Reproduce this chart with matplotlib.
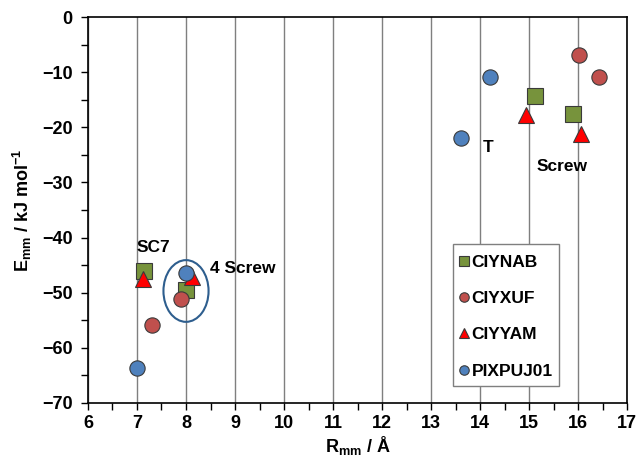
import matplotlib
matplotlib.use('Agg')
import matplotlib.pyplot as plt
from matplotlib.patches import Ellipse, Rectangle
from matplotlib.ticker import MultipleLocator

# Data
ciynab_r = [7.15, 8.0, 15.12, 15.9]
ciynab_e = [-46.0, -49.5, -14.4, -17.6]

ciyxuf_r = [7.3, 7.9, 16.02, 16.42]
ciyxuf_e = [-55.8, -51.1, -6.8, -10.9]

ciyyam_r = [7.12, 8.12, 14.93, 16.05]
ciyyam_e = [-47.5, -47.1, -17.7, -21.2]

pixpuj_r = [7.01, 7.99, 14.2, 13.6]
pixpuj_e = [-63.7, -46.5, -10.8, -22.0]

annotations = [("SC7", 7.33, -41.8), ("4 Screw", 9.16, -45.7),
               ("T", 14.16, -23.7), ("Screw", 15.67, -27.1)]

plt.rcParams['font.family'] = ['Liberation Sans', 'DejaVu Sans']
plt.rcParams['font.weight'] = 'bold'
plt.rcParams['mathtext.fontset'] = 'custom'
plt.rcParams['mathtext.rm'] = 'Liberation Sans:bold'
plt.rcParams['mathtext.bf'] = 'Liberation Sans:bold'
plt.rcParams['mathtext.default'] = 'bf'

W, H = 642, 462
fig = plt.figure(figsize=(W / 100, H / 100), dpi=100)
ax = fig.add_axes([0.137, 0.128, 0.840, 0.835])

ax.set_xlim(6, 17)
ax.set_ylim(-70, 0)
ax.xaxis.set_major_locator(MultipleLocator(1))
ax.xaxis.set_minor_locator(MultipleLocator(0.5))
ax.yaxis.set_major_locator(MultipleLocator(10))
ax.yaxis.set_minor_locator(MultipleLocator(5))
ax.tick_params(which='both', direction='out', length=5, width=1, labelsize=13)
ax.tick_params(axis='y', which='major', pad=6)
for lbl in ax.get_xticklabels() + ax.get_yticklabels():
    lbl.set_fontweight('bold')
ax.grid(axis='x', which='major', color='#7f7f7f', linewidth=1, zorder=0)
for s in ax.spines.values():
    s.set_linewidth(1.2)
    s.set_color('black')

ms = 11
ax.plot(ciynab_r, ciynab_e, 's', ms=ms, color='#77933C', mec='#3a3a3a', mew=0.8, ls='none', label='CIYNAB', zorder=3)
ax.plot(ciyxuf_r, ciyxuf_e, 'o', ms=ms, color='#C0504D', mec='#3a3a3a', mew=0.8, ls='none', label='CIYXUF', zorder=3)
ax.plot(ciyyam_r, ciyyam_e, '^', ms=ms, color='#FF0000', mec='#3a3a3a', mew=0.8, ls='none', label='CIYYAM', zorder=3)
ax.plot(pixpuj_r, pixpuj_e, 'o', ms=ms, color='#4F81BD', mec='#3a3a3a', mew=0.8, ls='none', label='PIXPUJ01', zorder=4)

ax.add_patch(Ellipse((8.0, -49.7), 0.92, 11.2, fill=False, edgecolor='#2E5E8E', linewidth=1.5, zorder=5))

for txt, x, y in annotations:
    ax.text(x, y, txt, ha='center', va='center', fontsize=12.5, fontweight='bold')

# legend frame drawn separately so spacing and box size can be set independently
box = Rectangle((453 / W, 1 - 386 / H), 106 / W, 142 / H, transform=fig.transFigure,
                facecolor='white', edgecolor='#7f7f7f', linewidth=1, zorder=6, clip_on=False)
ax.add_patch(box)
leg = ax.legend(loc='upper left', bbox_to_anchor=(458.5 / W, 1 - 254.5 / H), bbox_transform=fig.transFigure,
                prop={'size': 12.5, 'weight': 'bold'}, markerscale=0.62, handlelength=0.6,
                handletextpad=0.15, labelspacing=1.22, borderpad=0, borderaxespad=0, frameon=False)
leg.set_zorder(7)

ax.set_xlabel(r'R$_{mm}$ / Å', fontsize=13, fontweight='bold', labelpad=2)
ax.set_ylabel(r'E$_{mm}$ / kJ mol$^{-1}$', fontsize=13, fontweight='bold', labelpad=6)

fig.savefig('out.png', dpi=100)
